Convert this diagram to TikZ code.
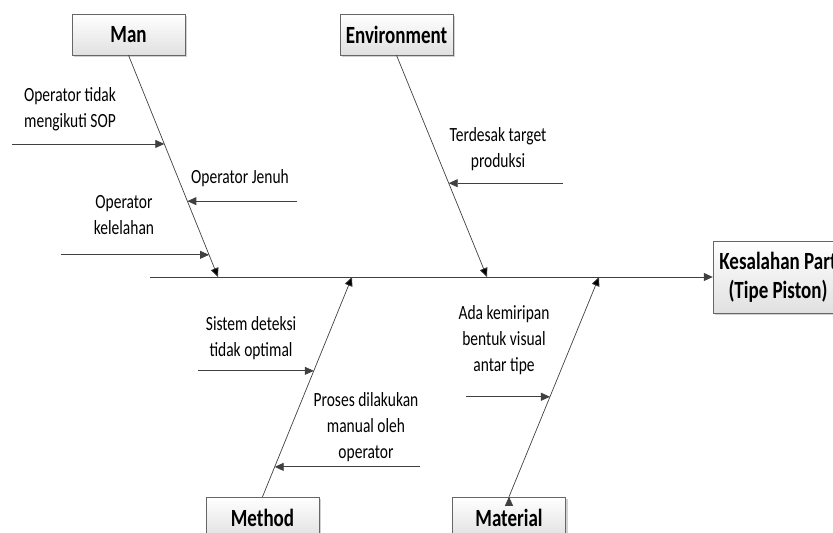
\documentclass[tikz,border=0pt]{standalone}
\usepackage{fontspec}
\setmainfont{Carlito}
\usetikzlibrary{arrows.meta,shadows}
\tikzset{every node/.style={align=center}, >={Triangle[length=9pt,width=8pt]},
  cause/.style={draw=black!60, top color=white, bottom color=black!12,
    drop shadow={shadow xshift=2pt, shadow yshift=-2pt, fill=black!35},
    minimum width=113pt, minimum height=31.5pt, inner sep=2pt,
    font=\fontsize{19}{22.5}\selectfont\bfseries, yscale=1.3},
  txt/.style={font=\fontsize{15.5}{20}\selectfont, yscale=1.3},
  bone/.style={->, draw=black!75, line width=0.7pt},
  sub/.style={->, draw=black!75, line width=0.8pt}}
\begin{document}
\begin{tikzpicture}[x=1pt, y=-1pt]
  \useasboundingbox (0,0) rectangle (833,533);
  % category boxes and the effect
  \node [cause] (man) at (128.5,34.5) {Man};
  \node [cause] (env) at (396.5,34.5) {Environment};
  \node [cause] (method) at (262.5,517.5) {Method};
  \node [cause] (material) at (509,517.5) {Material};
  \node [cause, minimum width=130pt, minimum height=55.5pt] (effect) at (778,277) {Kesalahan Part\\(Tipe Piston)};

  % spine and bones
  \coordinate (tail) at (150,277);
  \coordinate (jman) at (218,277);
  \coordinate (jenv) at (487,277);
  \coordinate (jmet) at (352,277);
  \coordinate (jmat) at (599,277);
  \draw [->, draw=black!75, line width=1pt] (tail) -- (effect);
  \path [bone] (man.south) edge (jman)
               (env.south) edge (jenv)
               (method.north) edge (jmet)
               (material.north) edge (jmat);

  % points on the bones
  \path (man.south) -- (jman) coordinate[pos=.40] (m1) coordinate[pos=.658] (m2) coordinate[pos=.90] (m3);
  \path (env.south) -- (jenv) coordinate[pos=.577] (e1);
  \path (method.north) -- (jmet) coordinate[pos=.573] (d1) coordinate[pos=.136] (d2);
  \path (material.north) -- (jmat) coordinate[pos=.455] (a1);

  % causes
  \coordinate (fm1) at (12,0 |- m1);
  \coordinate (fm2) at (297,0 |- m2);
  \coordinate (fm3) at (61,0 |- m3);
  \coordinate (fe1) at (563,0 |- e1);
  \coordinate (fd1) at (198,0 |- d1);
  \coordinate (fd2) at (420,0 |- d2);
  \coordinate (fa1) at (466,0 |- a1);
  \draw [sub] (fm1) -- (m1);
  \draw [sub] (fm2) -- (m2);
  \draw [sub] (fm3) -- (m3);
  \draw [sub] (fe1) -- (e1);
  \draw [sub] (fd1) -- (d1);
  \draw [sub] (fd2) -- (d2);
  \draw [sub] (fa1) -- (a1);

  \node [txt] (t1) at (70,109.5) {Operator tidak\\mengikuti SOP};
  \node [txt] (t2) at (240,178) {Operator Jenuh};
  \node [txt] (t3) at (124,215) {Operator\\kelelahan};
  \node [txt] (t4) at (498,149) {Terdesak target\\produksi};
  \node [txt] (t5) at (251,338.5) {Sistem deteksi\\tidak optimal};
  \node [txt] (t6) at (366,427) {Proses dilakukan\\manual oleh\\operator};
  \node [txt] (t7) at (504,340) {Ada kemiripan\\bentuk visual\\antar tipe};
\end{tikzpicture}
\end{document}
